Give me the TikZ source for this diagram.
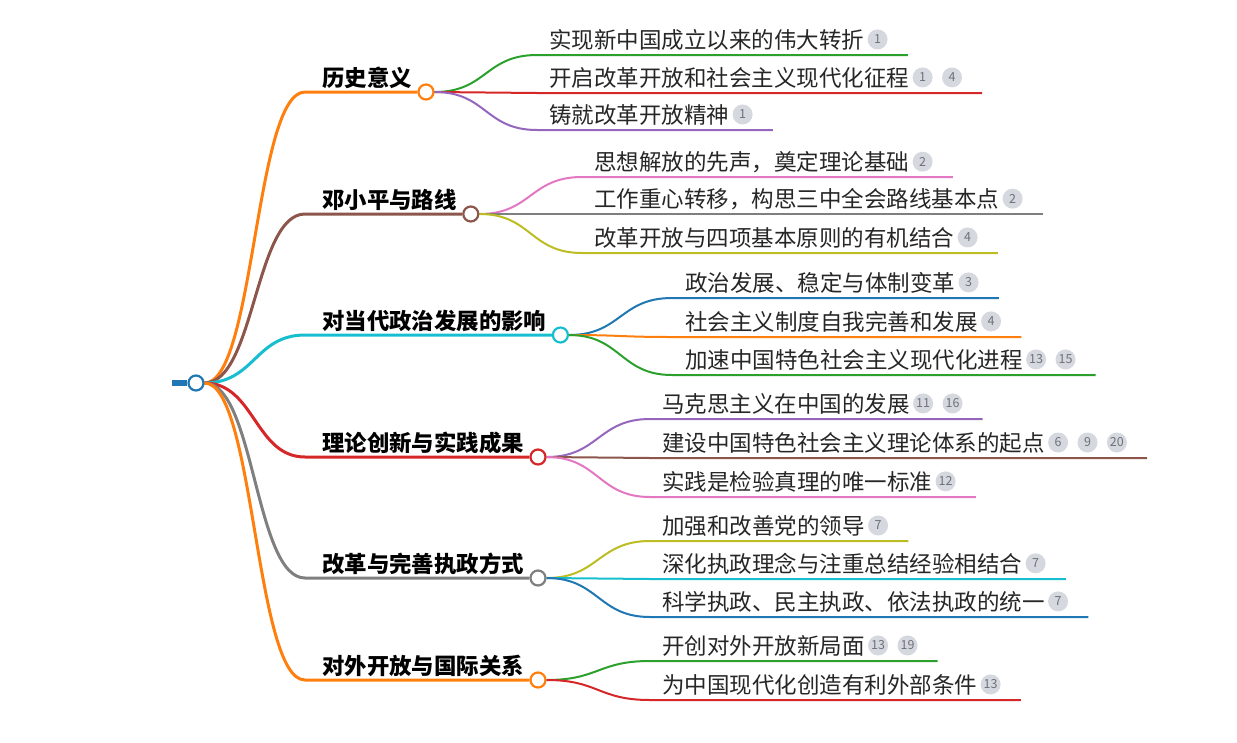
\documentclass[tikz,border=0pt]{standalone}
\usepackage{fontspec}
\newfontfamily\cjk{Noto Sans CJK SC}
\usetikzlibrary{positioning}
\definecolor{cblue}{HTML}{1F77B4}
\definecolor{corange}{HTML}{FF7F0E}
\definecolor{cgreen}{HTML}{2CA02C}
\definecolor{cred}{HTML}{D62728}
\definecolor{cpurple}{HTML}{9467BD}
\definecolor{cbrown}{HTML}{8C564B}
\definecolor{cpink}{HTML}{E377C2}
\definecolor{cgray}{HTML}{7F7F7F}
\definecolor{colive}{HTML}{BCBD22}
\definecolor{ccyan}{HTML}{17BECF}
\definecolor{badgefill}{HTML}{D5D8DE}
\definecolor{badgetext}{HTML}{6E7178}
\definecolor{leaftext}{HTML}{262626}

\begin{document}
\begin{tikzpicture}[x=1pt,y=-1pt,
    topic/.style={anchor=base west,xshift=17pt,yshift=6pt,inner sep=0pt,font=\cjk\bfseries\fontsize{22.4}{26}\selectfont},
    leaf/.style={anchor=base west,xshift=12pt,yshift=7pt,inner sep=0pt,text=leaftext,font=\cjk\fontsize{22.5}{26}\selectfont},
    badge/.style={circle,fill=badgefill,minimum size=20pt,inner sep=0pt,text=badgetext,font=\cjk\fontsize{12.5}{14}\selectfont},
    knot/.style={circle,draw=#1,line width=2.2pt,fill=white,minimum size=15pt,inner sep=0pt},
    stem/.style={#1,line width=3pt},
    twig/.style={#1,line width=2pt}]
    \useasboundingbox (0,0) rectangle (1237,742);

    % root
    \node[knot=cblue] (root) at (196,383) {};
    \coordinate (stub) at (172,383);
    \draw[cblue,line width=6pt] (stub) -- (root.west);

    % main topics
    \coordinate (k1) at (305,92);
    \coordinate (k2) at (305,214);
    \coordinate (k3) at (305,335);
    \coordinate (k4) at (305,457);
    \coordinate (k5) at (305,578);
    \coordinate (k6) at (305,680);
    \node[topic] (l1) at (k1) {历史意义};
    \node[topic] (l2) at (k2) {邓小平与路线};
    \node[topic] (l3) at (k3) {对当代政治发展的影响};
    \node[topic] (l4) at (k4) {理论创新与实践成果};
    \node[topic] (l5) at (k5) {改革与完善执政方式};
    \node[topic] (l6) at (k6) {对外开放与国际关系};
    \node[knot=corange,xshift=14pt] (h1) at (k1 -| l1.east) {};
    \node[knot=cbrown,xshift=14pt] (h2) at (k2 -| l2.east) {};
    \node[knot=ccyan,xshift=14pt] (h3) at (k3 -| l3.east) {};
    \node[knot=cred,xshift=14pt] (h4) at (k4 -| l4.east) {};
    \node[knot=cgray,xshift=14pt] (h5) at (k5 -| l5.east) {};
    \node[knot=corange,xshift=14pt] (h6) at (k6 -| l6.east) {};
    \draw[stem=corange] (root.east) .. controls +(50,0) and +(-50,0) .. (k1) -- (h1.west);
    \draw[stem=cbrown] (root.east) .. controls +(50,0) and +(-50,0) .. (k2) -- (h2.west);
    \draw[stem=ccyan] (root.east) .. controls +(50,0) and +(-50,0) .. (k3) -- (h3.west);
    \draw[stem=cred] (root.east) .. controls +(50,0) and +(-50,0) .. (k4) -- (h4.west);
    \draw[stem=cgray] (root.east) .. controls +(50,0) and +(-50,0) .. (k5) -- (h5.west);
    \draw[stem=corange] (root.east) .. controls +(50,0) and +(-50,0) .. (k6) -- (h6.west);

    % 历史意义
    \coordinate (c11) at (537,55);
    \coordinate (c12) at (537,93);
    \coordinate (c13) at (537,130);
    \node[leaf] (t11) at (c11) {实现新中国成立以来的伟大转折};
    \node[badge,right=3pt of t11] (b11a) {1};
    \node[leaf] (t12) at (c12) {开启改革开放和社会主义现代化征程};
    \node[badge,right=3pt of t12] (b12a) {1};
    \node[badge,right=9pt of b12a] (b12b) {4};
    \node[leaf] (t13) at (c13) {铸就改革开放精神};
    \node[badge,right=3pt of t13] (b13a) {1};
    \draw[twig=cgreen] (h1.east) .. controls +(52,0) and +(-52,0) .. (c11) -- (c11 -| b11a.east) -- ++(20,0);
    \draw[twig=cred] (h1.east) .. controls +(52,0) and +(-52,0) .. (c12) -- (c12 -| b12b.east) -- ++(20,0);
    \draw[twig=cpurple] (h1.east) .. controls +(52,0) and +(-52,0) .. (c13) -- (c13 -| b13a.east) -- ++(20,0);

    % 邓小平与路线
    \coordinate (c21) at (582,177);
    \coordinate (c22) at (582,214);
    \coordinate (c23) at (582,253);
    \node[leaf] (t21) at (c21) {思想解放的先声，奠定理论基础};
    \node[badge,right=3pt of t21] (b21a) {2};
    \node[leaf] (t22) at (c22) {工作重心转移，构思三中全会路线基本点};
    \node[badge,right=3pt of t22] (b22a) {2};
    \node[leaf] (t23) at (c23) {改革开放与四项基本原则的有机结合};
    \node[badge,right=3pt of t23] (b23a) {4};
    \draw[twig=cpink] (h2.east) .. controls +(52,0) and +(-52,0) .. (c21) -- (c21 -| b21a.east) -- ++(20,0);
    \draw[twig=cgray] (h2.east) .. controls +(52,0) and +(-52,0) .. (c22) -- (c22 -| b22a.east) -- ++(20,0);
    \draw[twig=colive] (h2.east) .. controls +(52,0) and +(-52,0) .. (c23) -- (c23 -| b23a.east) -- ++(20,0);

    % 对当代政治发展的影响
    \coordinate (c31) at (672,298);
    \coordinate (c32) at (672,337);
    \coordinate (c33) at (672,375);
    \node[leaf,xshift=1pt] (t31) at (c31) {政治发展、稳定与体制变革};
    \node[badge,right=3pt of t31] (b31a) {3};
    \node[leaf,xshift=1pt] (t32) at (c32) {社会主义制度自我完善和发展};
    \node[badge,right=3pt of t32] (b32a) {4};
    \node[leaf,xshift=1pt] (t33) at (c33) {加速中国特色社会主义现代化进程};
    \node[badge,right=3pt of t33] (b33a) {13};
    \node[badge,right=9pt of b33a] (b33b) {15};
    \draw[twig=cblue] (h3.east) .. controls +(52,0) and +(-52,0) .. (c31) -- (c31 -| b31a.east) -- ++(20,0);
    \draw[twig=corange] (h3.east) .. controls +(52,0) and +(-52,0) .. (c32) -- (c32 -| b32a.east) -- ++(20,0);
    \draw[twig=cgreen] (h3.east) .. controls +(52,0) and +(-52,0) .. (c33) -- (c33 -| b33b.east) -- ++(20,0);

    % 理论创新与实践成果
    \coordinate (c41) at (650,419);
    \coordinate (c42) at (650,458);
    \coordinate (c43) at (650,497);
    \node[leaf] (t41) at (c41) {马克思主义在中国的发展};
    \node[badge,right=3pt of t41] (b41a) {11};
    \node[badge,right=9pt of b41a] (b41b) {16};
    \node[leaf] (t42) at (c42) {建设中国特色社会主义理论体系的起点};
    \node[badge,right=3pt of t42] (b42a) {6};
    \node[badge,right=9pt of b42a] (b42b) {9};
    \node[badge,right=9pt of b42b] (b42c) {20};
    \node[leaf] (t43) at (c43) {实践是检验真理的唯一标准};
    \node[badge,right=3pt of t43] (b43a) {12};
    \draw[twig=cpurple] (h4.east) .. controls +(52,0) and +(-52,0) .. (c41) -- (c41 -| b41b.east) -- ++(20,0);
    \draw[twig=cbrown] (h4.east) .. controls +(52,0) and +(-52,0) .. (c42) -- (c42 -| b42c.east) -- ++(20,0);
    \draw[twig=cpink] (h4.east) .. controls +(52,0) and +(-52,0) .. (c43) -- (c43 -| b43a.east) -- ++(20,0);

    % 改革与完善执政方式
    \coordinate (c51) at (650,541);
    \coordinate (c52) at (650,579);
    \coordinate (c53) at (650,617);
    \node[leaf] (t51) at (c51) {加强和改善党的领导};
    \node[badge,right=3pt of t51] (b51a) {7};
    \node[leaf] (t52) at (c52) {深化执政理念与注重总结经验相结合};
    \node[badge,right=3pt of t52] (b52a) {7};
    \node[leaf] (t53) at (c53) {科学执政、民主执政、依法执政的统一};
    \node[badge,right=3pt of t53] (b53a) {7};
    \draw[twig=colive] (h5.east) .. controls +(52,0) and +(-52,0) .. (c51) -- (c51 -| b51a.east) -- ++(20,0);
    \draw[twig=ccyan] (h5.east) .. controls +(52,0) and +(-52,0) .. (c52) -- (c52 -| b52a.east) -- ++(20,0);
    \draw[twig=cblue] (h5.east) .. controls +(52,0) and +(-52,0) .. (c53) -- (c53 -| b53a.east) -- ++(20,0);

    % 对外开放与国际关系
    \coordinate (c61) at (650,661);
    \coordinate (c62) at (650,700);
    \node[leaf] (t61) at (c61) {开创对外开放新局面};
    \node[badge,right=3pt of t61] (b61a) {13};
    \node[badge,right=9pt of b61a] (b61b) {19};
    \node[leaf] (t62) at (c62) {为中国现代化创造有利外部条件};
    \node[badge,right=3pt of t62] (b62a) {13};
    \draw[twig=cgreen] (h6.east) .. controls +(52,0) and +(-52,0) .. (c61) -- (c61 -| b61b.east) -- ++(20,0);
    \draw[twig=cred] (h6.east) .. controls +(52,0) and +(-52,0) .. (c62) -- (c62 -| b62a.east) -- ++(20,0);
\end{tikzpicture}
\end{document}
